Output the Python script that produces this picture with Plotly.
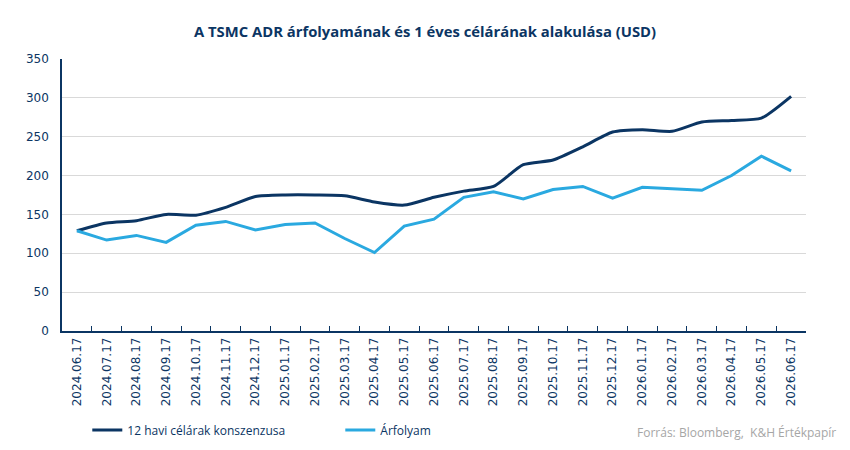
import plotly.graph_objects as go

# Dátumok és értékek (USD)
dates = ['2024.06.17', '2024.07.17', '2024.08.17', '2024.09.17', '2024.10.17',
         '2024.11.17', '2024.12.17', '2025.01.17', '2025.02.17', '2025.03.17',
         '2025.04.17', '2025.05.17', '2025.06.17', '2025.07.17', '2025.08.17',
         '2025.09.17', '2025.10.17', '2025.11.17', '2025.12.17', '2026.01.17',
         '2026.02.17', '2026.03.17', '2026.04.17', '2026.05.17', '2026.06.17']
target_price = [129, 139, 142, 150, 149, 159, 173, 175, 175, 174, 166, 162, 172,
                180, 186, 214, 220, 237, 256, 259, 257, 269, 271, 274, 302]
share_price = [129, 117, 123, 114, 136, 141, 130, 137, 139, 119, 101, 135, 144,
               172, 179, 170, 182, 186, 171, 185, 183, 181, 200, 225, 206]

navy = '#0b3563'
light = '#2aa9e0'
font = 'Open Sans'
tick_font = 'DejaVu Sans'

fig = go.Figure()
fig.add_trace(go.Scatter(x=dates, y=target_price, name='12 havi célárak konszenzusa',
                         mode='lines', line=dict(color=navy, width=3, shape='spline', smoothing=0.6)))
fig.add_trace(go.Scatter(x=dates, y=share_price, name='Árfolyam',
                         mode='lines', line=dict(color=light, width=3)))

fig.update_layout(
    width=850, height=450,
    margin=dict(l=62, r=44, t=59, b=119, autoexpand=False),
    plot_bgcolor='white', paper_bgcolor='white',
    font=dict(family=font, color=navy, size=12),
    title=dict(text='<b>A TSMC ADR árfolyamának és 1 éves célárának alakulása (USD)</b>',
               x=0.5, xanchor='center', y=1 - 32 / 450, yanchor='middle',
               font=dict(size=14.8, color=navy, family=font)),
    showlegend=True,
    legend=dict(orientation='h', x=0.034, y=1 - 430 / 450, yref='container',
                xanchor='left', yanchor='middle',
                font=dict(size=12, color=navy), entrywidth=208, entrywidthmode='pixels'),
)

fig.update_xaxes(type='category', range=[-0.5, len(dates) - 0.5], automargin=False,
                 tickangle=-90, tickson='boundaries',
                 ticks='inside', ticklen=5, tickcolor=navy,
                 showline=True, linecolor=navy, linewidth=1.5,
                 showgrid=False, tickfont=dict(size=12, color=navy, family=tick_font))
fig.update_yaxes(range=[0, 350], dtick=50, automargin=False,
                 showline=True, linecolor=navy, linewidth=1.5,
                 gridcolor='#d9d9d9', gridwidth=1, zeroline=False,
                 ticks='', ticklabelstandoff=9,
                 tickfont=dict(size=12, color=navy, family=tick_font))

fig.add_annotation(text='Forrás: Bloomberg,  K&H Értékpapír', xref='paper', yref='paper',
                   x=(838 - 62) / 744, y=-(432 - 331) / 272, xanchor='right', yanchor='middle',
                   showarrow=False, font=dict(size=12, color='#a6a6a6', family=font))

# remove the default page margin so the figure sits at the window's corner
fig.write_html('out.html', config={'displayModeBar': False},
               post_script="document.body.style.margin='0';")
